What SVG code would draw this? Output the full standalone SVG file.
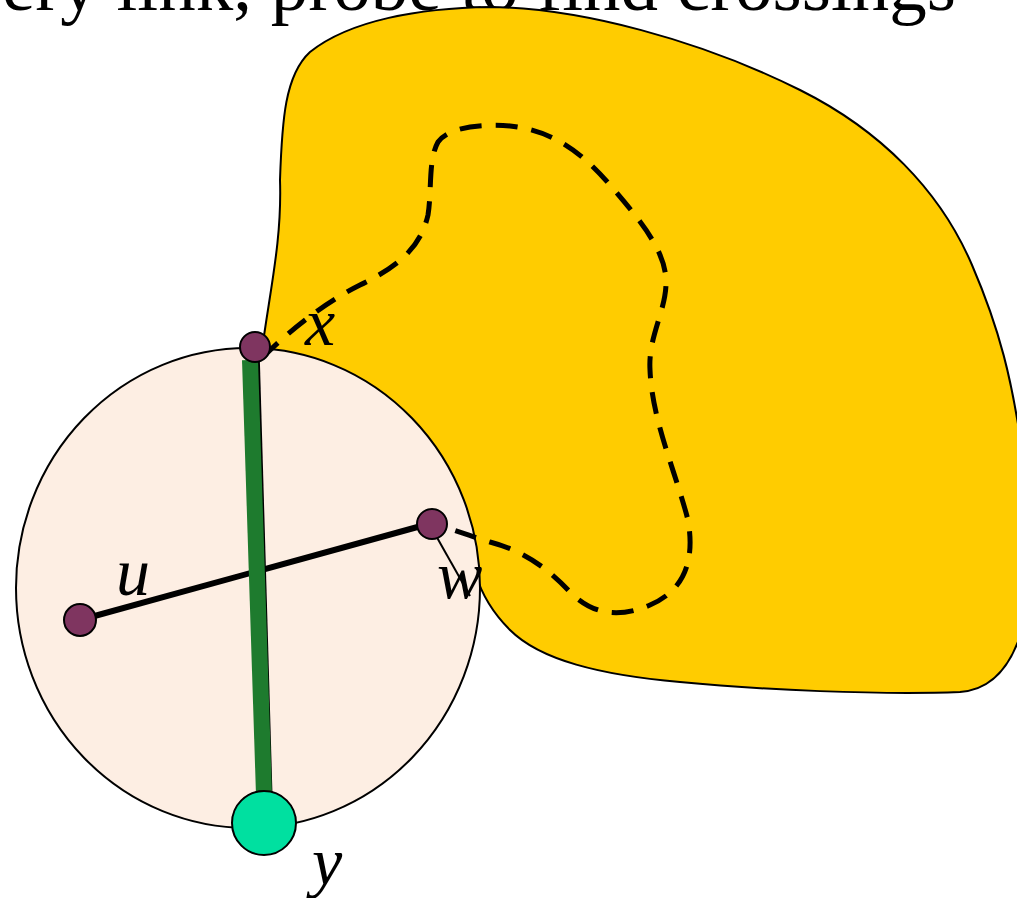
<svg xmlns="http://www.w3.org/2000/svg" width="1017" height="898" viewBox="0 0 1017 898">
<style>
.serif{font-family:"Times New Roman","Liberation Serif",Tinos,"Nimbus Roman",serif}
.lbl{font-style:italic;font-size:68px;fill:#000}
.node{fill:#7F3560;stroke:#000;stroke-width:2}
</style>
<rect width="1017" height="898" fill="#fff"/>
<text class="serif" x="2" y="10" font-size="75" fill="#000">ery link, probe to find crossings</text>
<g id="region">
<path d="M 262,350 C 270,290 282,240 280,180 C 282,120 285,75 310,52 C 350,20 420,8 490,7 C 580,8 700,40 800,90 C 880,130 940,190 972,265 C 1000,330 1012,380 1022,450 L 1022,630 C 1010,670 990,690 960,692 C 880,695 760,690 680,682 C 600,675 540,660 510,630 C 492,612 482,595 476,575 Z" fill="#FFCC00" stroke="#000" stroke-width="2"/>
</g>
<g id="disk">
<ellipse cx="248" cy="588" rx="232" ry="240" fill="#FDEEE3" stroke="#000" stroke-width="2"/>
</g>
<g id="connectors">
<line x1="80" y1="620" x2="432" y2="523" stroke="#000" stroke-width="6"/>
<line x1="257" y1="348" x2="270" y2="795" stroke="#000" stroke-width="5"/>
<line x1="250" y1="360" x2="264" y2="795" stroke="#1E7B2E" stroke-width="16"/>
<path d="M 262,358 C 285,335 320,305 360,285 C 395,268 420,250 428,215 C 432,190 428,160 438,142 C 450,125 490,124 510,126 C 550,130 580,150 610,185 C 640,220 665,250 666,280 C 667,310 648,335 650,370 C 652,420 675,470 688,520 C 695,560 685,590 650,605 C 615,620 590,612 570,592 C 545,565 520,550 490,542 C 470,536 455,530 432,523" fill="none" stroke="#000" stroke-width="5" stroke-dasharray="22 14"/>
<line x1="426" y1="518" x2="470" y2="596" stroke="#000" stroke-width="2"/>
</g>
<g id="node-x"><circle class="node" cx="255" cy="347" r="15"/><text class="serif lbl" x="305" y="345">x</text></g>
<g id="node-u"><circle class="node" cx="80" cy="620" r="16"/><text class="serif lbl" x="116" y="595">u</text></g>
<g id="node-w"><circle class="node" cx="432" cy="524" r="15"/><text class="serif lbl" x="437" y="598">w</text></g>
<g id="node-y"><circle cx="264" cy="823" r="32" fill="#00E0A0" stroke="#000" stroke-width="2"/><text class="serif lbl" x="312" y="885">y</text></g>
</svg>
